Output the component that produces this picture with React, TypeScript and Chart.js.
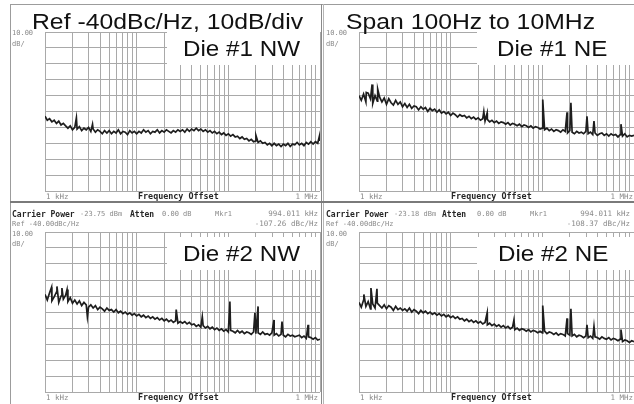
import React, { useEffect, useRef } from 'react';
import { Chart, registerables } from 'chart.js';

Chart.register(...registerables);

// ---------- data ----------
// 40 steps per decade (typed mantissas) used as the analyzer's frequency bins
const binMantissas = [
  1.0, 1.059, 1.122, 1.189, 1.259, 1.334, 1.413, 1.496, 1.585, 1.679,
  1.778, 1.884, 1.995, 2.113, 2.239, 2.371, 2.512, 2.661, 2.818, 2.985,
  3.162, 3.35, 3.548, 3.758, 3.981, 4.217, 4.467, 4.732, 5.012, 5.309,
  5.623, 5.957, 6.31, 6.683, 7.079, 7.499, 7.943, 8.414, 8.913, 9.441,
];
const binDecades = [1e3, 1e4, 1e5];
const traceFreqs: number[] = binDecades
  .flatMap((d) => binMantissas.map((m) => Math.round(m * d)))
  .concat([1e6]);

// x grid (log decades 1 kHz .. 1 MHz)
const gridMantissas = [1, 2, 3, 4, 5, 6, 7, 8, 9];
const xGridTicks: number[] = binDecades
  .flatMap((d) => gridMantissas.map((m) => m * d))
  .concat([1e6]);

const refLevel = -40; // dBc/Hz (top)
const bottomLevel = -140; // dBc/Hz (bottom)
const dbPerDiv = 10;

// Die #1 NW
const levelsNW1 = [
  -93, -95.5, -94.5, -96.5, -95.5, -97.5, -96, -98.5, -97.5, -99,
  -100.5, -99, -101.5, -100, -101, -99.5, -102, -100.5, -101.5, -100,
  -102.5, -101, -103, -101.5, -102.5, -104, -102, -103.5, -102, -104,
  -102.5, -103.5, -101.5, -104, -102.5, -103, -104.5, -102, -103.5, -102.5,
  -104, -102.5, -103.5, -101.5, -103, -102, -104, -102.5, -103, -101.5,
  -103.5, -102, -103, -101.5, -102.5, -103.5, -102, -103, -101.5, -102.5,
  -101.5, -103, -101, -102.5, -101, -102, -100.5, -102, -101, -102.5,
  -101.5, -103, -102, -103.5, -102.5, -104, -103, -104.5, -103.5, -105,
  -104, -105.5, -104.5, -106, -105.5, -107, -106, -107.5, -107, -108.5,
  -107.5, -109, -108.5, -109.5, -108.5, -110, -109.5, -111, -110, -111.5,
  -110, -111.5, -110.5, -112, -110.5, -111.5, -110, -112, -110.5, -111,
  -109.5, -111, -110, -111.5, -109.5, -110.5, -109, -110.5, -109, -110,
  -108.5,
];
const spurFreqsNW1 = [2200, 3300, 200000, 990000];
const spurLevelsNW1 = [-94, -98, -105, -105];

// Die #1 NE
const levelsNE1 = [
  -80, -83, -79, -84, -78.5, -82, -85, -80, -83.5, -81,
  -84, -81.5, -85.5, -82, -84.5, -86, -83, -85.5, -84, -87,
  -85, -87.5, -85.5, -88, -86.5, -87, -89, -87, -88.5, -87.5,
  -90, -88, -89.5, -88.5, -90.5, -89, -91, -90, -91.5, -90.5,
  -92.5, -91, -92, -93.5, -92, -93, -92.5, -94, -93, -94.5,
  -93.5, -95, -94, -95.5, -94.5, -96, -95, -96.5, -95.5, -97,
  -96, -97.5, -96.5, -97, -98, -97, -98.5, -97.5, -98, -99,
  -98, -99.5, -98.5, -99, -100, -99, -100.5, -99.5, -100, -101,
  -100.5, -101.5, -100.5, -102, -101, -102.5, -101.5, -102, -103, -101.5,
  -102.5, -103.5, -102, -103, -104, -102.5, -103.5, -103, -104, -102.5,
  -104, -103, -104.5, -103.5, -105, -104, -103.5, -105, -104, -105.5,
  -104, -105, -104.5, -106, -104.5, -105.5, -104, -106, -105, -105.5,
  -105,
];
const spurFreqsNE1 = [1200, 1390, 1600, 23000, 25000, 101000, 186000, 205000, 307000, 366000, 721000];
const spurLevelsNE1 = [-78, -73, -76, -90, -91, -82.5, -90.5, -84.5, -93, -96, -98];

// Die #2 NW
const levelsNW2 = [
  -79, -82.5, -78, -83, -80.5, -77.5, -84, -80, -82, -79.5,
  -83.5, -81, -84.5, -82.5, -85, -83, -86, -84, -85.5, -87,
  -85.5, -87.5, -86, -88.5, -87, -88, -89.5, -87.5, -89, -88.5,
  -90, -88.5, -90.5, -89.5, -91, -90, -91.5, -90.5, -92, -91,
  -92.5, -91.5, -93, -92, -93.5, -92.5, -94, -93, -94.5, -93.5,
  -95, -94, -95.5, -94.5, -96, -95, -96.5, -95.5, -97, -96,
  -97, -96, -97.5, -96.5, -98, -97.5, -99, -98, -99.5, -98.5,
  -100, -99, -100.5, -99.5, -101, -100, -101.5, -100.5, -102, -101,
  -102.5, -101.5, -102, -103, -101.5, -103, -102, -103.5, -102.5, -103,
  -104, -102.5, -103.5, -103, -104, -102.5, -104, -103.5, -104.5, -103,
  -104.5, -103.5, -105, -104, -104.5, -105.5, -104, -105, -104.5, -105.5,
  -105, -104.5, -106, -105, -106.5, -105.5, -106, -107, -106, -107.5,
  -107,
];
const spurFreqsNW2 = [1180, 1350, 1530, 1740, 2900, 27000, 52000, 104000, 195000, 211000, 315000, 385000, 741000];
const spurLevelsNW2 = [-74.5, -74, -75, -76, -93, -88.5, -93, -83.5, -90.5, -86.5, -95, -96, -98];

// Die #2 NE
const levelsNE2 = [
  -84, -87, -82.5, -86.5, -83.5, -88, -85, -87.5, -84.5, -86,
  -87.5, -85.5, -88, -86, -87, -89, -86.5, -88.5, -87.5, -89,
  -88, -89.5, -87.5, -90, -88.5, -89.5, -91, -89, -90.5, -89.5,
  -91, -90, -91.5, -90.5, -92, -91, -92.5, -91.5, -93, -92,
  -93.5, -92.5, -94, -93, -94.5, -94, -95.5, -94.5, -96, -95,
  -96.5, -95.5, -97, -96, -97.5, -96.5, -98, -97, -98.5, -97.5,
  -99, -98, -99.5, -98.5, -100, -99, -100.5, -99.5, -101, -100,
  -101.5, -100.5, -101, -102, -101, -102.5, -101.5, -102, -103, -102,
  -103, -102, -103.5, -102.5, -103, -104, -103, -104.5, -103.5, -104,
  -105, -103.5, -104.5, -105, -104, -105.5, -104.5, -105, -106, -105,
  -106, -105, -106.5, -105.5, -106, -107, -105.5, -106.5, -107, -106,
  -107.5, -106.5, -107, -108, -107, -108.5, -107.5, -108, -109, -108,
  -108.5,
];
const spurFreqsNE2 = [1130, 1350, 1570, 25000, 49000, 101000, 186000, 205000, 307000, 366000, 721000];
const spurLevelsNE2 = [-79, -75, -75.5, -90.5, -95, -86, -94, -88, -98, -99, -101];

// ---------- styling ----------
const GRID = '#a9a9a9';
const TRACE = '#1e1e1e';
const TXT_GRAY = '#8a8a8a';
const TXT_DARK = '#262626';
const MONO = '"DejaVu Sans Mono", "Liberation Mono", monospace';
const SANS = '"Liberation Sans", Arial, Helvetica, sans-serif';
const FRAME = '#9c9c9c';

type PlotProps = {
  left: number;
  top: number;
  width: number;
  height: number;
  levels: number[];
  spurF: number[];
  spurL: number[];
};

function TracePlot({ left, top, width, height, levels, spurF, spurL }: PlotProps) {
  const ref = useRef<HTMLCanvasElement>(null);
  useEffect(() => {
    const pts = traceFreqs
      .map((f, i) => ({ x: f, y: levels[i] }))
      .concat(spurF.map((f, i) => ({ x: f, y: spurL[i] })))
      .sort((a, b) => a.x - b.x);
    const chart = new Chart(ref.current as HTMLCanvasElement, {
      type: 'line',
      data: {
        datasets: [
          {
            data: pts,
            borderColor: TRACE,
            borderWidth: 1.7,
            pointRadius: 0,
            tension: 0,
            fill: false,
          },
        ],
      },
      options: {
        animation: false,
        responsive: false,
        devicePixelRatio: 1,
        layout: { padding: 2 },
        plugins: { legend: { display: false }, tooltip: { enabled: false } },
        scales: {
          x: {
            type: 'logarithmic',
            min: 1e3,
            max: 1e6,
            afterBuildTicks: (axis: any) => {
              axis.ticks = xGridTicks.map((v) => ({ value: v }));
            },
            ticks: { display: false, autoSkip: false },
            grid: { color: GRID, lineWidth: 1, drawTicks: false },
            border: { display: false },
          },
          y: {
            type: 'linear',
            min: bottomLevel,
            max: refLevel,
            ticks: { display: false, stepSize: dbPerDiv },
            grid: { color: GRID, lineWidth: 1, drawTicks: false },
            border: { display: false },
          },
        },
      },
    } as any);
    return () => chart.destroy();
  }, []);
  return (
    <canvas
      ref={ref}
      width={width + 4}
      height={height + 4}
      style={{ position: 'absolute', left: left - 2, top: top - 2, width: width + 4, height: height + 4 }}
    />
  );
}

type TxtProps = {
  x?: number;
  right?: number;
  y: number;
  text: string;
  size?: number;
  bold?: boolean;
  color?: string;
  font?: string;
};

function Txt({ x, right, y, text, size = 7.5, bold = false, color = TXT_GRAY, font = MONO }: TxtProps) {
  const style: React.CSSProperties = {
    position: 'absolute',
    top: y,
    fontSize: size,
    lineHeight: `${size + 1}px`,
    fontFamily: font,
    fontWeight: bold ? 'bold' : 'normal',
    color,
    whiteSpace: 'pre',
  };
  if (right !== undefined) style.right = 634 - right;
  else style.left = x;
  return <div style={style}>{text}</div>;
}

function BigTxt({ x, y, text, size }: { x: number; y: number; text: string; size: number }) {
  return (
    <div
      style={{
        position: 'absolute',
        left: x,
        top: y,
        fontFamily: SANS,
        fontSize: size,
        lineHeight: `${size}px`,
        color: '#111',
        whiteSpace: 'pre',
        transform: 'scaleX(1.1)',
        transformOrigin: 'left top',
      }}
    >
      {text}
    </div>
  );
}

function Box({ x, y, w, h, bg }: { x: number; y: number; w: number; h: number; bg: string }) {
  return <div style={{ position: 'absolute', left: x, top: y, width: w, height: h, background: bg }} />;
}

const panels = [
  { left: 45, top: 32, width: 275, height: 159, levels: levelsNW1, spurF: spurFreqsNW1, spurL: spurLevelsNW1 },
  { left: 359, top: 32, width: 275, height: 159, levels: levelsNE1, spurF: spurFreqsNE1, spurL: spurLevelsNE1 },
  { left: 45, top: 232, width: 275, height: 160, levels: levelsNW2, spurF: spurFreqsNW2, spurL: spurLevelsNW2 },
  { left: 359, top: 232, width: 275, height: 160, levels: levelsNE2, spurF: spurFreqsNE2, spurL: spurLevelsNE2 },
];

export default function App() {
  return (
    <div
      style={{
        position: 'fixed',
        left: 0,
        top: 0,
        width: 634,
        height: 404,
        overflow: 'hidden',
        background: '#ffffff',
      }}
    >
      {/* frames */}
      <Box x={10} y={4} w={624} h={1} bg={FRAME} />
      <Box x={10} y={4} w={1} h={400} bg={FRAME} />
      <Box x={321} y={4} w={1} h={400} bg={'#8a8a8a'} />
      <Box x={323} y={4} w={1} h={400} bg={'#b5b5b5'} />
      <Box x={10} y={201} w={624} h={2} bg={'#7a7a7a'} />

      {panels.map((p, i) => (
        <TracePlot key={i} {...p} />
      ))}

      {/* label boxes */}
      <Box x={167} y={30} w={153} h={35} bg="#fff" />
      <Box x={477} y={30} w={157} h={35} bg="#fff" />
      <Box x={167} y={237} w={153} h={33} bg="#fff" />
      <Box x={477} y={237} w={157} h={33} bg="#fff" />

      {/* big annotations */}
      <BigTxt x={32} y={11} size={22.5} text="Ref -40dBc/Hz, 10dB/div" />
      <BigTxt x={346} y={11} size={22.5} text="Span 100Hz to 10MHz" />
      <BigTxt x={183} y={38} size={22} text="Die #1 NW" />
      <BigTxt x={497} y={38} size={22} text="Die #1 NE" />
      <BigTxt x={183} y={243} size={22} text="Die #2 NW" />
      <BigTxt x={498} y={243} size={22} text="Die #2 NE" />

      {/* top-left texts */}
      <Txt x={12} y={29} text="10.00" size={7} />
      <Txt x={12} y={40} text="dB/" size={7} />
      <Txt x={46} y={193} text="1 kHz" />
      <Txt x={138} y={192} text="Frequency Offset" size={8.4} bold color={TXT_DARK} />
      <Txt right={318} y={193} text="1 MHz" />

      {/* top-right texts */}
      <Txt x={326} y={29} text="10.00" size={7} />
      <Txt x={326} y={40} text="dB/" size={7} />
      <Txt x={360} y={193} text="1 kHz" />
      <Txt x={451} y={192} text="Frequency Offset" size={8.4} bold color={TXT_DARK} />
      <Txt right={633} y={193} text="1 MHz" />

      {/* bottom-left texts */}
      <Txt x={12} y={210} text="Carrier Power" size={8} bold color={TXT_DARK} />
      <Txt x={80} y={210} text="-23.75 dBm" size={7} />
      <Txt x={130} y={210} text="Atten" size={8} bold color={TXT_DARK} />
      <Txt x={162} y={210} text="0.00 dB" size={7} />
      <Txt x={215} y={210} text="Mkr1" size={7} />
      <Txt right={318} y={210} text="994.011 kHz" size={7.5} />
      <Txt x={12} y={220} text="Ref -40.00dBc/Hz" size={7} />
      <Txt right={318} y={220} text="-107.26 dBc/Hz" size={7.5} />
      <Txt x={12} y={230} text="10.00" size={7} />
      <Txt x={12} y={240} text="dB/" size={7} />
      <Txt x={46} y={394} text="1 kHz" />
      <Txt x={138} y={393} text="Frequency Offset" size={8.4} bold color={TXT_DARK} />
      <Txt right={318} y={394} text="1 MHz" />

      {/* bottom-right texts */}
      <Txt x={326} y={210} text="Carrier Power" size={8} bold color={TXT_DARK} />
      <Txt x={394} y={210} text="-23.18 dBm" size={7} />
      <Txt x={442} y={210} text="Atten" size={8} bold color={TXT_DARK} />
      <Txt x={477} y={210} text="0.00 dB" size={7} />
      <Txt x={530} y={210} text="Mkr1" size={7} />
      <Txt right={630} y={210} text="994.011 kHz" size={7.5} />
      <Txt x={326} y={220} text="Ref -40.00dBc/Hz" size={7} />
      <Txt right={630} y={220} text="-108.37 dBc/Hz" size={7.5} />
      <Txt x={326} y={230} text="10.00" size={7} />
      <Txt x={326} y={240} text="dB/" size={7} />
      <Txt x={360} y={394} text="1 kHz" />
      <Txt x={451} y={393} text="Frequency Offset" size={8.4} bold color={TXT_DARK} />
      <Txt right={633} y={394} text="1 MHz" />
    </div>
  );
}
